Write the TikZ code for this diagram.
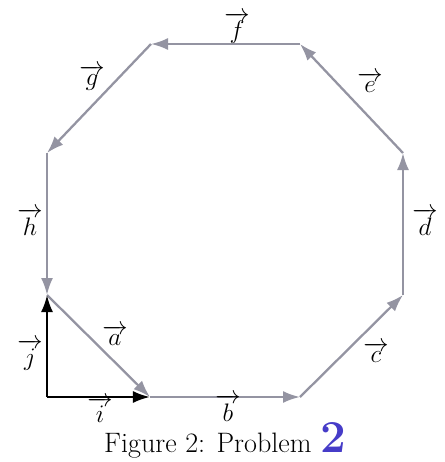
\documentclass[tikz,border=0pt]{standalone}
\usepackage{amsmath}
\usetikzlibrary{arrows.meta,positioning}
\definecolor{vecgray}{RGB}{148,148,162}
\definecolor{inkblue}{RGB}{70,60,200}

\begin{document}
\begin{tikzpicture}[
    x=0.2mm, y=-0.2mm,
    side/.style={draw=vecgray, line width=1.3pt, -{Latex[length=3.4mm,width=2.4mm]}},
    unit/.style={draw=black, line width=1.3pt, -{Latex[length=3.4mm,width=2.4mm]}},
    lbl/.style={font=\Large, inner sep=1pt},
    >=Stealth
  ]
  \useasboundingbox (0,0) rectangle (445,462);

  % Octagon corners
  \coordinate (p1) at (47,295);
  \coordinate (p2) at (150,397);
  \coordinate (p3) at (300,397);
  \coordinate (p4) at (403,295);
  \coordinate (p5) at (403,153);
  \coordinate (p6) at (300,44);
  \coordinate (p7) at (151,44);
  \coordinate (p8) at (47,153);
  \coordinate (o) at (47,397);

  % Sides a..h
  \draw[side] (p1) -- (p2);
  \draw[side] (p2) -- (p3);
  \draw[side] (p3) -- (p4);
  \draw[side] (p4) -- (p5);
  \draw[side] (p5) -- (p6);
  \draw[side] (p6) -- (p7);
  \draw[side] (p7) -- (p8);
  \draw[side] (p8) -- (p1);

  % Unit vectors
  \draw[unit] (o) -- (p1);
  \draw[unit] (o) -- (p2);

  % Labels
  \node[lbl] (la) at (115,335) {$\overrightarrow{a}$};
  \node[lbl] (lb) at (228,408) {$\overrightarrow{b}$};
  \node[lbl] (lc) at (376,352) {$\overrightarrow{c}$};
  \node[lbl] (ld) at (425,222) {$\overrightarrow{d}$};
  \node[lbl] (le) at (370,82) {$\overrightarrow{e}$};
  \node[lbl] (lf) at (237,28) {$\overrightarrow{f}$};
  \node[lbl] (lg) at (92,78) {$\overrightarrow{g}$};
  \node[lbl] (lh) at (30,222) {$\overrightarrow{h}$};
  \node[lbl] (li) at (100,410) {$\overrightarrow{i}$};
  \node[lbl] (lj) at (30,355) {$\overrightarrow{j}$};

  \node[font=\fontsize{16}{18}\selectfont, anchor=west] (cap) at (98,440) {Figure 2: Problem \textcolor{inkblue}{\fontsize{26}{28}\selectfont\bfseries 2}};
\end{tikzpicture}
\end{document}
